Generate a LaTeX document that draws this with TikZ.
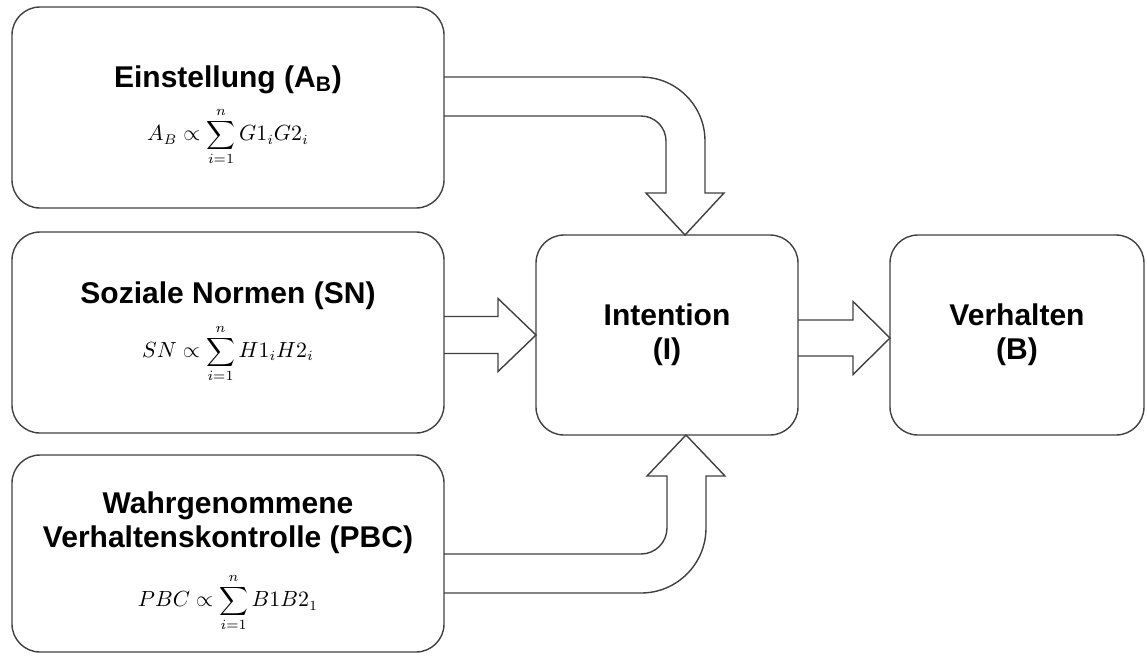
\documentclass[tikz,border=0pt]{standalone}
\usepackage[no-math]{fontspec}
\newfontfamily\arialfont{Liberation Sans}
\usetikzlibrary{calc}
\newcommand{\formel}[1]{{\fontsize{10.5}{12}\selectfont$\displaystyle #1$}}

\begin{document}
\begin{tikzpicture}[x=0.5pt,y=0.5pt,
box/.style={draw=black!75,line width=0.7pt,rounded corners=14pt,minimum width=216pt,
minimum height=100pt,inner sep=0pt,outer sep=0pt,align=center,
font=\arialfont\fontsize{15}{17}\selectfont\bfseries},
blockarrow/.style={draw=black!75,line width=0.7pt,line join=miter}]
\useasboundingbox (0,0) rectangle (1147,-655);
\node[box,minimum height=100.5pt](a) at(228,-107.5){\rule{0pt}{19pt}Einstellung (A\textsubscript{B})\\[6pt]
\formel{A_B \propto \sum_{i=1}^{n} G1_iG2_i}};
\node[box,minimum height=100.5pt](sn) at(228,-332.5){Soziale Normen (SN)\\[6pt]
\formel{SN \propto \sum_{i=1}^{n} H1_iH2_i}};
\node[box,minimum height=98.5pt](pbc) at(228,-553.5){\rule{0pt}{19pt}Wahrgenommene\\Verhaltenskontrolle (PBC)\\[9pt]
\formel{PBC \propto \sum_{i=1}^{n} B1B2_1}};
\node[box,minimum width=131pt](i) at(667,-335){Intention\\(I)};
\node[box,minimum width=127pt](b) at(1017,-335){Verhalten\\(B)};
\draw[blockarrow]($(a.east)+(0,30.5)$)--++(197,0)arc[start angle=90,end angle=0,radius=64]
--++(0,-52)--++(19,0)--($(i.north)+(18,0)$)--++(-39,42)--++(20,0)--++(0,52)
arc[start angle=0,end angle=90,radius=25]--($(a.east)+(0,-8.5)$);
\coordinate (s) at (sn.east |- i.west);
\draw[blockarrow]($(s)+(0,18.5)$)--++(54,0)--++(0,18)--(i.west)--++(-38,-36.5)--++(0,18)
--($(s)+(0,-18.5)$);
\draw[blockarrow]($(pbc.east)+(0,-39.5)$)--++(197,0)arc[start angle=-90,end angle=0,radius=65]
--++(0,52)--++(19,0)--($(i.south)+(19,0)$)--++(-39,-41)--++(20,0)--++(0,-52)
arc[start angle=0,end angle=-90,radius=26]--($(pbc.east)+(0,-0.5)$);
\draw[blockarrow]($(i.east)+(0,15)$)--++(55,0)--++(0,18.5)--($(b.west)+(0,-3)$)--++(-37,-36.5)--++(0,18.5)
--($(i.east)+(0,-21)$);
\end{tikzpicture}
\end{document}
